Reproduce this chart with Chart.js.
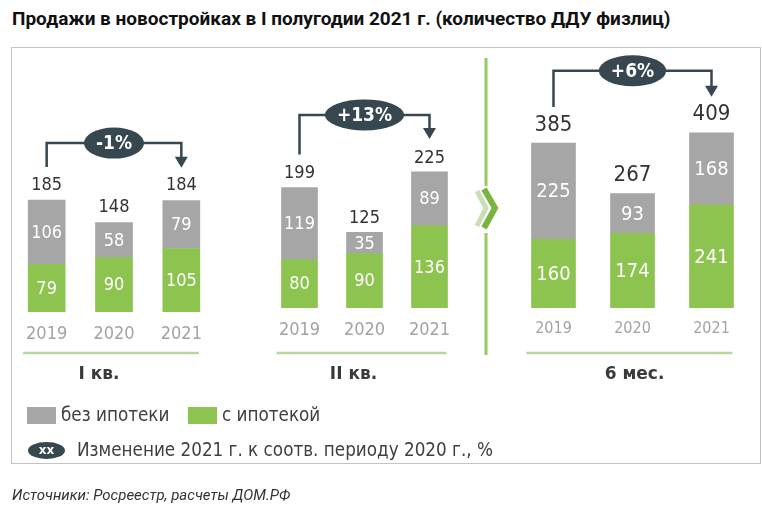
<!DOCTYPE html>
<html>
<head>
<meta charset="utf-8">
<script src="https://cdn.jsdelivr.net/npm/chart.js@4.4.1/dist/chart.umd.min.js"></script>
<style>
body{margin:0;width:762px;height:513px;position:relative;background:#fff;overflow:hidden;font-family:'DejaVu Sans Condensed','DejaVu Sans',sans-serif;}
#title{position:absolute;left:12px;top:7px;font:bold 19px Roboto;color:#111;white-space:nowrap;}
#box{position:absolute;left:11px;top:47px;width:748px;height:415px;border:1px solid #c4c4c4;}
canvas{position:absolute;left:0;top:0;}
.leg{position:absolute;font-size:18.7px;color:#404040;line-height:20px;white-space:nowrap;}
.sw{position:absolute;width:29px;height:17px;}
#xx{position:absolute;left:28px;top:442px;width:37px;height:17px;border-radius:50%;background:#37474f;color:#fff;font:bold 12px 'DejaVu Sans';line-height:17px;text-align:center;}
#src{position:absolute;left:12px;top:486px;font:italic 15px Roboto;color:#333;white-space:nowrap;}
</style>
</head>
<body>
<div id="title">Продажи в новостройках в I полугодии 2021 г. (количество ДДУ физлиц)</div>
<div id="box"></div>
<canvas id="q1" width="762" height="513"></canvas>
<canvas id="q2" width="762" height="513"></canvas>
<canvas id="h1" width="762" height="513"></canvas>
<div class="sw" style="left:27px;top:407px;background:#a6a6a6"></div>
<div class="leg" style="left:61px;top:405px">без ипотеки</div>
<div class="sw" style="left:188px;top:407px;background:#8dc450"></div>
<div class="leg" style="left:222px;top:405px">с ипотекой</div>
<div id="xx">xx</div>
<div class="leg" style="left:77px;top:440px">Изменение 2021 г. к соотв. периоду 2020 г., %</div>
<div id="src">Источники: Росреестр, расчеты ДОМ.РФ</div>
<script>
const years = ['2019', '2020', '2021'];
const q1Mortgage = [79, 90, 105];
const q1NoMortgage = [106, 58, 79];
const q2Mortgage = [80, 90, 136];
const q2NoMortgage = [119, 35, 89];
const h1Mortgage = [160, 174, 241];
const h1NoMortgage = [225, 93, 168];
const panelNames = ['I кв.', 'II кв.', '6 мес.'];
const changes = ['-1%', '+13%', '+6%'];

const FONT = "'DejaVu Sans Condensed', 'DejaVu Sans', sans-serif";
const GREEN = '#8dc450';
const GREY = '#a6a6a6';
const DARK = '#37474f';

// values inside bars, totals, change bracket, underline and panel name
const panelPlugin = {
	id: 'panelPlugin',
	beforeDraw(chart, args, o) {
		if (!o.divider) return;
		const ctx = chart.ctx;
		ctx.save();
		ctx.strokeStyle = '#97cb62';
		ctx.lineWidth = 3;
		ctx.beginPath();
		ctx.moveTo(486, 58); ctx.lineTo(486, 186);
		ctx.moveTo(486, 233); ctx.lineTo(486, 355);
		ctx.stroke();
		ctx.lineWidth = 5;
		ctx.strokeStyle = '#cbdebb';
		ctx.beginPath();
		ctx.moveTo(477, 191); ctx.lineTo(486, 208); ctx.lineTo(477, 226);
		ctx.stroke();
		ctx.strokeStyle = '#78b53f';
		ctx.lineWidth = 6;
		ctx.beginPath();
		ctx.moveTo(484, 189); ctx.lineTo(495, 208); ctx.lineTo(484, 228);
		ctx.stroke();
		ctx.restore();
	},
	afterDatasetsDraw(chart, args, o) {
		const ctx = chart.ctx;
		const low = chart.getDatasetMeta(0);
		const high = chart.getDatasetMeta(1);
		const ds = chart.data.datasets;
		ctx.save();
		ctx.textAlign = 'center';
		ctx.textBaseline = 'middle';

		ctx.fillStyle = '#fff';
		ctx.font = o.valueSize + 'px ' + FONT;
		[low, high].forEach((meta, d) => {
			meta.data.forEach((bar, i) => {
				ctx.fillText(ds[d].data[i], bar.x, (bar.y + bar.base) / 2 + 1);
			});
		});

		ctx.fillStyle = '#333';
		ctx.font = o.totalSize + 'px ' + FONT;
		high.data.forEach((bar, i) => {
			ctx.fillText(ds[0].data[i] + ds[1].data[i], bar.x, bar.y - o.totalGap);
		});

		// bracket with arrow
		const a = high.data[0], m = high.data[1], c = high.data[2];
		const topY = Math.min(a.y, c.y) - o.bracketGap;
		const startY = a.y - o.lineGap;
		const tipY = c.y - o.lineGap;
		ctx.strokeStyle = DARK;
		ctx.fillStyle = DARK;
		ctx.lineWidth = 2.5;
		ctx.beginPath();
		ctx.moveTo(a.x, startY);
		ctx.lineTo(a.x, topY);
		ctx.lineTo(c.x, topY);
		ctx.lineTo(c.x, tipY - 10);
		ctx.stroke();
		ctx.beginPath();
		ctx.moveTo(c.x - 6.5, tipY - 11);
		ctx.lineTo(c.x + 6.5, tipY - 11);
		ctx.lineTo(c.x, tipY);
		ctx.closePath();
		ctx.fill();

		ctx.font = 'bold ' + o.changeSize + 'px ' + FONT;
		const tw = ctx.measureText(o.change).width;
		ctx.beginPath();
		ctx.ellipse(m.x, topY, tw / 2 + 12, 15.5, 0, 0, Math.PI * 2);
		ctx.fill();
		ctx.fillStyle = '#fff';
		ctx.fillText(o.change, m.x, topY + 1);

		// underline and panel name
		const f = low.data[0], l = low.data[2];
		ctx.strokeStyle = '#b7d79c';
		ctx.lineWidth = 2.5;
		ctx.beginPath();
		ctx.moveTo(f.x - f.width / 2 - 5, 353);
		ctx.lineTo(l.x + l.width / 2 - 1, 353);
		ctx.stroke();
		ctx.fillStyle = '#3a3a3a';
		ctx.font = 'bold 17px ' + "'DejaVu Sans', sans-serif";
		ctx.fillText(o.name, m.x + o.nameShift, 375);
		ctx.restore();
	}
};

function makePanel(id, mortgage, noMortgage, p) {
	return new Chart(document.getElementById(id), {
		type: 'bar',
		data: {
			labels: years,
			datasets: [
				{ label: 'с ипотекой', data: mortgage, backgroundColor: GREEN, barThickness: p.bar },
				{ label: 'без ипотеки', data: noMortgage, backgroundColor: GREY, barThickness: p.bar }
			]
		},
		plugins: [panelPlugin],
		options: {
			responsive: false,
			animation: false,
			events: [],
			layout: { padding: p.padding },
			scales: {
				x: {
					stacked: true,
					grid: { display: false, drawTicks: false },
					border: { display: false },
					ticks: { color: '#a3a3a3', font: { family: FONT, size: p.tickSize }, padding: p.tickPad },
					afterFit: (s) => { s.height = 40; }
				},
				y: { stacked: true, display: false, min: 0, max: p.max }
			},
			plugins: {
				legend: { display: false },
				tooltip: { enabled: false },
				panelPlugin: p.opts
			}
		}
	});
}

makePanel('q1', q1Mortgage, q1NoMortgage, {
	bar: 37, max: 400, tickSize: 18, tickPad: 12,
	padding: { left: 13, right: 547, top: 70, bottom: 161 },
	opts: { valueSize: 18, totalSize: 18, totalGap: 15, lineGap: 33, bracketGap: 57, changeSize: 19, change: changes[0], name: panelNames[0], nameShift: -15 }
});
makePanel('q2', q2Mortgage, q2NoMortgage, {
	bar: 36, max: 400, tickSize: 18, tickPad: 12,
	padding: { left: 267, right: 300, top: 66, bottom: 165 },
	opts: { valueSize: 18, totalSize: 18, totalGap: 14, lineGap: 33, bracketGap: 57, changeSize: 19, change: changes[1], name: panelNames[1], nameShift: -11 }
});
makePanel('h1', h1Mortgage, h1NoMortgage, {
	bar: 44, max: 560, tickSize: 16, tickPad: 11,
	padding: { left: 514, right: 11, top: 68, bottom: 165 },
	opts: { valueSize: 20, totalSize: 22, totalGap: 18, lineGap: 36, bracketGap: 62, changeSize: 19, change: changes[2], name: panelNames[2], nameShift: 2, divider: true }
});
</script>
</body>
</html>
